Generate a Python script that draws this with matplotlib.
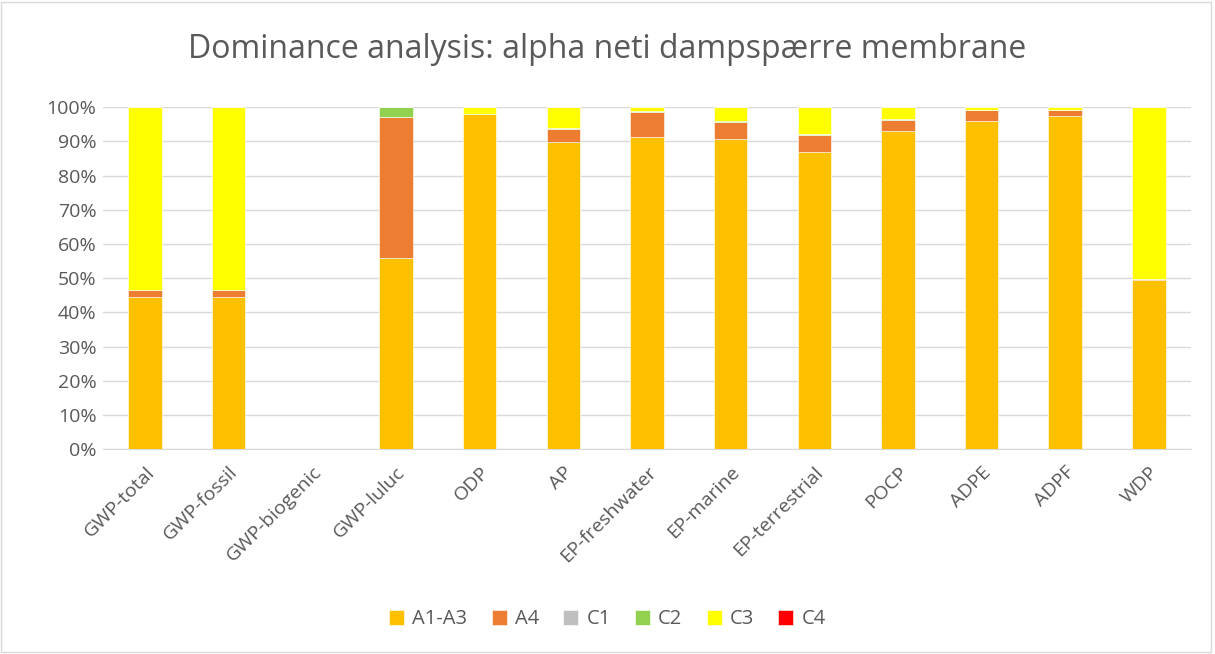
import matplotlib.pyplot as plt
from matplotlib.patches import Rectangle
from matplotlib.ticker import PercentFormatter
import numpy as np

plt.rcParams['font.family'] = ['Open Sans', 'DejaVu Sans']

categories = ["GWP-total", "GWP-fossil", "GWP-biogenic", "GWP-luluc", "ODP", "AP",
              "EP-freshwater", "EP-marine", "EP-terrestrial", "POCP", "ADPE", "ADPF", "WDP"]
a1_a3 = [44.5, 44.5, 0, 56.0, 98.0, 89.8, 91.2, 90.6, 86.8, 93.0, 95.9, 97.4, 49.4]
a4 = [2.0, 2.0, 0, 41.2, 0.0, 3.9, 7.4, 5.1, 5.1, 3.4, 3.2, 1.9, 0.3]
c1 = [0, 0, 0, 0, 0, 0, 0, 0, 0, 0, 0, 0, 0]
c2 = [0.0, 0.0, 0, 2.8, 0.0, 0.1, 0.4, 0.2, 0.4, 0.1, 0.1, 0.0, 0.0]
c3 = [53.5, 53.5, 0, 0.0, 2.0, 6.2, 1.0, 4.1, 7.7, 3.5, 0.8, 0.7, 50.3]
c4 = [0, 0, 0, 0, 0, 0, 0, 0, 0, 0, 0, 0, 0]

series = [("A1-A3", a1_a3, "#FFC000"), ("A4", a4, "#ED7D31"), ("C1", c1, "#BFBFBF"),
          ("C2", c2, "#92D050"), ("C3", c3, "#FFFF00"), ("C4", c4, "#FF0000")]

fig = plt.figure(figsize=(12.15, 6.54), dpi=100)
ax = fig.add_axes([0.085, 0.313, 0.895, 0.523])

x = np.arange(len(categories))
bottom = np.zeros(len(categories))
for name, vals, col in series:
    vals = np.array(vals, dtype=float)
    ax.bar(x, vals, 0.4, bottom=bottom, color=col, label=name,
           edgecolor="white", linewidth=0.4, zorder=3)
    bottom += vals

ax.set_ylim(0, 100)
ax.set_xlim(-0.5, len(categories) - 0.5)
ax.set_yticks(np.arange(0, 101, 10))
ax.yaxis.set_major_formatter(PercentFormatter(decimals=0))
ax.grid(axis="y", color="#D9D9D9", linewidth=1, zorder=0)
for s in ["top", "right", "left"]:
    ax.spines[s].set_visible(False)
ax.spines["bottom"].set_color("#D9D9D9")
ax.tick_params(axis="both", length=0, colors="#595959", labelsize=14)
ax.tick_params(axis="y", pad=5)
ax.set_xticks(x)
ax.set_xticklabels(categories, rotation=45, ha="right", rotation_mode="anchor")
ax.tick_params(axis="x", pad=10)

fig.suptitle("Dominance analysis: alpha neti dampspærre membrane", y=0.95,
             fontsize=23, color="#595959")

fig.legend(loc="lower center", ncol=6, bbox_to_anchor=(0.5, 0.01), frameon=False,
           fontsize=14.5, labelcolor="#595959", handlelength=0.75, handleheight=0.75,
           columnspacing=1.2, handletextpad=0.4)

fig.patches.append(Rectangle((0.001, 0.003), 0.996, 0.994, transform=fig.transFigure,
                             fill=False, edgecolor="#D9D9D9", linewidth=1))

fig.savefig("out.png", dpi=100)
